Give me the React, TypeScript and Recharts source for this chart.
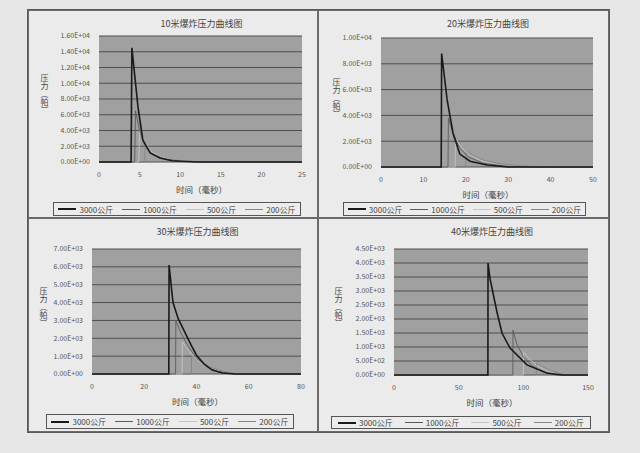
import React from "react";
import { LineChart, Line, XAxis, YAxis, CartesianGrid } from "recharts";

// ─── Data ────────────────────────────────────────────────────────────────────

const SERIES_NAMES = ["3000公斤", "1000公斤", "500公斤", "200公斤"];
const TITLES = ["10米爆炸压力曲线图", "20米爆炸压力曲线图", "30米爆炸压力曲线图", "40米爆炸压力曲线图"];
const X_LABEL = "时间（毫秒）";
const Y_LABEL = "压力（帕）";

const X_TICKS_1 = [0, 5, 10, 15, 20, 25];
const Y_TICKS_1 = [0, 2000, 4000, 6000, 8000, 10000, 12000, 14000, 16000];
const X_TICKS_2 = [0, 10, 20, 30, 40, 50];
const Y_TICKS_2 = [0, 2000, 4000, 6000, 8000, 10000];
const X_TICKS_3 = [0, 20, 40, 60, 80];
const Y_TICKS_3 = [0, 1000, 2000, 3000, 4000, 5000, 6000, 7000];
const X_TICKS_4 = [0, 50, 100, 150];
const Y_TICKS_4 = [0, 500, 1000, 1500, 2000, 2500, 3000, 3500, 4000, 4500];

// 10 m
const T1_3000 = [0, 3.95, 4.05, 4.8, 5.4, 6.3, 7.5, 9, 12, 25];
const P1_3000 = [0, 0, 14500, 7000, 2800, 1150, 500, 150, 0, 0];
const T1_1000 = [0, 4.4, 4.5, 5.0, 5.6, 6.5, 8, 10, 14, 25];
const P1_1000 = [0, 0, 6500, 4000, 2200, 1000, 400, 100, 0, 0];
const T1_500 = [0, 4.9, 5.0, 5.6, 6.4, 7.5, 9, 12, 25];
const P1_500 = [0, 0, 4000, 2600, 1400, 700, 250, 0, 0];
const T1_200 = [0, 5.6, 5.7, 6.4, 7.3, 8.5, 10.5, 14, 25];
const P1_200 = [0, 0, 2200, 1500, 800, 400, 120, 0, 0];

// 20 m
const T2_3000 = [0, 14.2, 14.3, 15.6, 17, 18.6, 21, 25, 30, 50];
const P2_3000 = [0, 0, 8800, 5200, 2600, 1000, 450, 150, 0, 0];
const T2_1000 = [0, 15.8, 15.9, 17, 18.5, 20.5, 24, 29, 35, 50];
const P2_1000 = [0, 0, 3800, 2600, 1500, 800, 300, 80, 0, 0];
const T2_500 = [0, 17.5, 17.6, 19, 21, 24, 28, 34, 50];
const P2_500 = [0, 0, 2200, 1500, 900, 450, 150, 0, 0];
const T2_200 = [0, 20, 20.1, 22, 24.5, 28, 33, 40, 50];
const P2_200 = [0, 0, 1200, 850, 500, 250, 80, 0, 0];

// 30 m
const T3_3000 = [0, 29.4, 29.5, 31, 33, 35, 38, 40, 43, 46, 50, 55, 80];
const P3_3000 = [0, 0, 6100, 4000, 3100, 2500, 1600, 1050, 550, 220, 60, 0, 0];
const T3_1000 = [0, 32, 32.1, 34, 37, 40, 44, 48, 54, 80];
const P3_1000 = [0, 0, 3000, 2300, 1500, 900, 400, 150, 0, 0];
const T3_500 = [0, 34.5, 34.6, 37, 40, 44, 49, 55, 80];
const P3_500 = [0, 0, 1800, 1300, 800, 400, 120, 0, 0];
const T3_200 = [0, 38, 38.1, 41, 45, 50, 56, 80];
const P3_200 = [0, 0, 1000, 700, 400, 150, 0, 0];

// 40 m
const T4_3000 = [0, 72.6, 72.7, 74.2, 79.6, 83.5, 89.7, 102.8, 118, 130, 150];
const P4_3000 = [0, 0, 4000, 3450, 2250, 1500, 960, 360, 70, 0, 0];
const T4_1000 = [0, 91.9, 92, 95, 100, 107, 115, 125, 150];
const P4_1000 = [0, 0, 1600, 1100, 650, 320, 120, 0, 0];
const T4_500 = [0, 100, 100.2, 104, 110, 118, 128, 150];
const P4_500 = [0, 0, 800, 600, 350, 150, 0, 0];
const T4_200 = [0, 110, 110.2, 115, 122, 132, 150];
const P4_200 = [0, 0, 420, 300, 150, 0, 0];

// ─── Helpers ────────────────────────────────────────────────────────────────

const zip = (t: number[], p: number[]) => t.map((v, i) => ({ t: v, p: p[i] }));

function sci(v: number) {
  if (v === 0) return "0.00E+00";
  const e = Math.floor(Math.log10(Math.abs(v)) + 1e-9);
  const m = v / Math.pow(10, e);
  return `${m.toFixed(2)}E+${String(e).padStart(2, "0")}`;
}

const LINE_STYLES = [
  { stroke: "#1a1a1a", width: 1.6 },
  { stroke: "#5a5a5a", width: 0.9 },
  { stroke: "#c4c4c4", width: 0.9 },
  { stroke: "#858585", width: 0.9 },
];

const FONT = "'Noto Sans CJK SC', 'Noto Sans', sans-serif";

interface PanelProps {
  frame: { x: number; y: number; w: number; h: number };
  plot: { x1: number; x2: number; y1: number; y2: number };
  title: string;
  xTicks: number[];
  yTicks: number[];
  series: { t: number; p: number }[][];
  legend: { x1: number; x2: number; y1: number; y2: number };
  yLabelX: number;
}

function Panel({ frame, plot, title, xTicks, yTicks, series, legend, yLabelX }: PanelProps) {
  const xAxisH = 20;
  const margin = {
    top: plot.y1 - frame.y,
    right: frame.x + frame.w - plot.x2,
    bottom: frame.y + frame.h - plot.y2 - xAxisH,
    left: 0,
  };
  const plotCx = (plot.x1 + plot.x2) / 2;
  return (
    <div style={{
      position: "absolute", left: frame.x, top: frame.y, width: frame.w, height: frame.h,
      boxSizing: "border-box", border: "1px solid #6a6a6a", background: "#ebebeb",
    }}>
      <div style={{ position: "absolute", left: -1, top: -1 }}>
        <LineChart width={frame.w} height={frame.h} margin={margin}>
          <CartesianGrid vertical={false} fill="#a0a0a0" stroke="#4e4e4e" strokeWidth={1} />
          <XAxis
            dataKey="t" type="number" domain={[xTicks[0], xTicks[xTicks.length - 1]]}
            ticks={xTicks} height={xAxisH} axisLine={false} tickLine={false}
            tick={{ fill: "#555", fontSize: 7, fontFamily: FONT }} tickMargin={4}
            allowDuplicatedCategory={false}
          />
          <YAxis
            type="number" domain={[yTicks[0], yTicks[yTicks.length - 1]]} ticks={yTicks}
            width={plot.x1 - frame.x} axisLine={false} tickLine={false} interval={0}
            tickFormatter={sci} tick={{ fill: "#555", fontSize: 7, fontFamily: FONT }} tickMargin={3}
          />
          {series.map((d, i) => (
            <Line
              key={i} data={d} dataKey="p" name={SERIES_NAMES[i]} type="linear" dot={false}
              stroke={LINE_STYLES[i].stroke} strokeWidth={LINE_STYLES[i].width}
              isAnimationActive={false}
            />
          )).reverse()}
        </LineChart>
      </div>

      {/* title */}
      <div style={{
        position: "absolute", left: plotCx - frame.x - 60, width: 120, top: 6, textAlign: "center",
        fontSize: 9, color: "#444", fontFamily: FONT,
      }}>{title}</div>

      {/* x axis title */}
      <div style={{
        position: "absolute", left: plotCx - frame.x - 50, width: 100, top: plot.y2 - frame.y + 20,
        textAlign: "center", fontSize: 8.5, color: "#444", fontFamily: FONT,
      }}>{X_LABEL}</div>

      {/* y axis title, stacked */}
      <div style={{
        position: "absolute", left: yLabelX - frame.x - 6, top: (plot.y1 + plot.y2) / 2 - frame.y - 26,
        width: 12, height: 56, writingMode: "vertical-rl", textOrientation: "upright",
        fontSize: 8, color: "#444", fontFamily: FONT, lineHeight: "12px",
      }}>{Y_LABEL}</div>

      {/* legend */}
      <div style={{
        position: "absolute", left: legend.x1 - frame.x, top: legend.y1 - frame.y,
        width: legend.x2 - legend.x1, height: legend.y2 - legend.y1, boxSizing: "border-box",
        border: "1px solid #555", background: "#ececec", display: "flex", alignItems: "center",
        justifyContent: "space-around", fontSize: 8, color: "#444", fontFamily: FONT,
      }}>
        {SERIES_NAMES.map((n, i) => (
          <div key={n} style={{ display: "flex", alignItems: "center", gap: 3 }}>
            <span style={{
              display: "inline-block", width: 18, height: 0,
              borderTop: `${LINE_STYLES[i].width + 0.5}px solid ${LINE_STYLES[i].stroke}`,
            }} />
            <span>{n}</span>
          </div>
        ))}
      </div>
    </div>
  );
}

export default function App() {
  return (
    <div style={{ position: "absolute", left: 0, top: 0, width: 640, height: 453, background: "#e7e7e7", overflow: "hidden" }}>
      <div style={{
        position: "absolute", left: 27, top: 9, width: 583, height: 424,
        boxSizing: "border-box", border: "2px solid #5a5a5a",
      }} />
      <Panel
        frame={{ x: 28, y: 10, w: 290, h: 208 }}
        plot={{ x1: 99, x2: 302, y1: 36, y2: 162 }}
        title={TITLES[0]} xTicks={X_TICKS_1} yTicks={Y_TICKS_1}
        series={[zip(T1_3000, P1_3000), zip(T1_1000, P1_1000), zip(T1_500, P1_500), zip(T1_200, P1_200)]}
        legend={{ x1: 52, x2: 300, y1: 201, y2: 215 }} yLabelX={43}
      />
      <Panel
        frame={{ x: 318, y: 10, w: 291, h: 208 }}
        plot={{ x1: 381, x2: 593, y1: 38, y2: 167 }}
        title={TITLES[1]} xTicks={X_TICKS_2} yTicks={Y_TICKS_2}
        series={[zip(T2_3000, P2_3000), zip(T2_1000, P2_1000), zip(T2_500, P2_500), zip(T2_200, P2_200)]}
        legend={{ x1: 342, x2: 585, y1: 201, y2: 215 }} yLabelX={335}
      />
      <Panel
        frame={{ x: 28, y: 218, w: 290, h: 214 }}
        plot={{ x1: 92, x2: 301, y1: 249, y2: 374 }}
        title={TITLES[2]} xTicks={X_TICKS_3} yTicks={Y_TICKS_3}
        series={[zip(T3_3000, P3_3000), zip(T3_1000, P3_1000), zip(T3_500, P3_500), zip(T3_200, P3_200)]}
        legend={{ x1: 45, x2: 293, y1: 413, y2: 428 }} yLabelX={42}
      />
      <Panel
        frame={{ x: 318, y: 218, w: 291, h: 214 }}
        plot={{ x1: 394, x2: 588, y1: 249, y2: 375 }}
        title={TITLES[3]} xTicks={X_TICKS_4} yTicks={Y_TICKS_4}
        series={[zip(T4_3000, P4_3000), zip(T4_1000, P4_1000), zip(T4_500, P4_500), zip(T4_200, P4_200)]}
        legend={{ x1: 330, x2: 590, y1: 415, y2: 428 }} yLabelX={337}
      />
    </div>
  );
}
